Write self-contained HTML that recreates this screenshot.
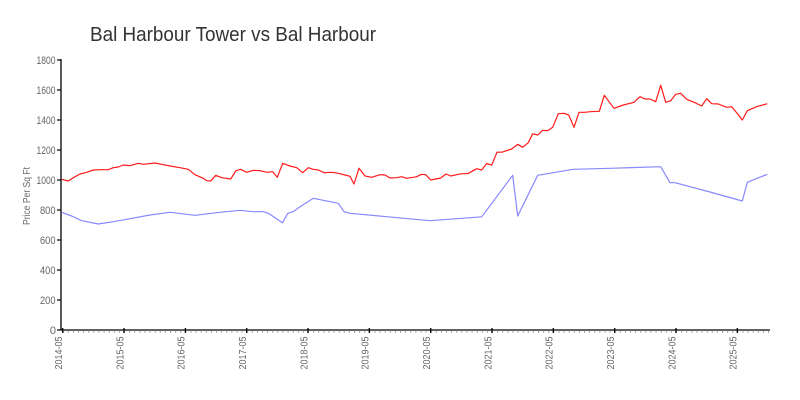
<!DOCTYPE html>
<html><head><meta charset="utf-8"><style>
html,body{margin:0;padding:0;background:#fff;width:800px;height:400px;overflow:hidden}
svg{display:block}
text{font-family:"Liberation Sans",sans-serif}
</style></head><body>
<svg width="800" height="400" viewBox="0 0 800 400" xmlns="http://www.w3.org/2000/svg">
<rect width="800" height="400" fill="#fff"/>
<text x="90" y="41" font-size="20" fill="#333" textLength="286" lengthAdjust="spacingAndGlyphs">Bal Harbour Tower vs Bal Harbour</text>
<!-- y axis -->
<line x1="61" y1="59" x2="61" y2="330.5" stroke="#000" stroke-width="1.3"/>
<g stroke="#000" stroke-width="1.2">
<line x1="57" y1="60" x2="61" y2="60"/><line x1="57" y1="90" x2="61" y2="90"/><line x1="57" y1="120" x2="61" y2="120"/><line x1="57" y1="150" x2="61" y2="150"/><line x1="57" y1="180" x2="61" y2="180"/><line x1="57" y1="210" x2="61" y2="210"/><line x1="57" y1="240" x2="61" y2="240"/><line x1="57" y1="270" x2="61" y2="270"/><line x1="57" y1="300" x2="61" y2="300"/><line x1="57" y1="330" x2="61" y2="330"/>
</g>
<g font-size="11" fill="#666" text-anchor="end">
<text x="55.5" y="63.8" textLength="19" lengthAdjust="spacingAndGlyphs">1800</text>
<text x="55.5" y="93.8" textLength="19" lengthAdjust="spacingAndGlyphs">1600</text>
<text x="55.5" y="123.8" textLength="19" lengthAdjust="spacingAndGlyphs">1400</text>
<text x="55.5" y="153.8" textLength="19" lengthAdjust="spacingAndGlyphs">1200</text>
<text x="55.5" y="183.8" textLength="19" lengthAdjust="spacingAndGlyphs">1000</text>
<text x="55.5" y="213.8" textLength="15.5" lengthAdjust="spacingAndGlyphs">800</text>
<text x="55.5" y="243.8" textLength="15.5" lengthAdjust="spacingAndGlyphs">600</text>
<text x="55.5" y="273.8" textLength="15.5" lengthAdjust="spacingAndGlyphs">400</text>
<text x="55.5" y="303.8" textLength="15.5" lengthAdjust="spacingAndGlyphs">200</text>
<text x="56" y="333.8">0</text>
</g>
<text transform="translate(30,196) rotate(-90)" font-size="10" fill="#666" text-anchor="middle" textLength="58" lengthAdjust="spacingAndGlyphs">Price Per Sq Ft</text>
<!-- x axis -->
<line x1="61" y1="330" x2="770" y2="330" stroke="#000" stroke-width="1.3"/>
<line x1="62.7" y1="331.5" x2="770" y2="331.5" stroke="#999" stroke-width="2.5" stroke-dasharray="1 4.111"/>
<g stroke="#000" stroke-width="1.3">
<line x1="62.7" y1="328" x2="62.7" y2="333"/><line x1="124" y1="328" x2="124" y2="333"/><line x1="185.4" y1="328" x2="185.4" y2="333"/><line x1="246.7" y1="328" x2="246.7" y2="333"/><line x1="308" y1="328" x2="308" y2="333"/><line x1="369.3" y1="328" x2="369.3" y2="333"/><line x1="430.7" y1="328" x2="430.7" y2="333"/><line x1="492" y1="328" x2="492" y2="333"/><line x1="553.3" y1="328" x2="553.3" y2="333"/><line x1="614.7" y1="328" x2="614.7" y2="333"/><line x1="676" y1="328" x2="676" y2="333"/><line x1="737.3" y1="328" x2="737.3" y2="333"/>
</g>
<g font-size="10" fill="#666" text-anchor="end">
<text transform="translate(62,336.5) rotate(-90)" textLength="33" lengthAdjust="spacingAndGlyphs">2014-05</text>
<text transform="translate(123.3,336.5) rotate(-90)" textLength="33" lengthAdjust="spacingAndGlyphs">2015-05</text>
<text transform="translate(184.7,336.5) rotate(-90)" textLength="33" lengthAdjust="spacingAndGlyphs">2016-05</text>
<text transform="translate(246,336.5) rotate(-90)" textLength="33" lengthAdjust="spacingAndGlyphs">2017-05</text>
<text transform="translate(307.3,336.5) rotate(-90)" textLength="33" lengthAdjust="spacingAndGlyphs">2018-05</text>
<text transform="translate(368.6,336.5) rotate(-90)" textLength="33" lengthAdjust="spacingAndGlyphs">2019-05</text>
<text transform="translate(430,336.5) rotate(-90)" textLength="33" lengthAdjust="spacingAndGlyphs">2020-05</text>
<text transform="translate(491.3,336.5) rotate(-90)" textLength="33" lengthAdjust="spacingAndGlyphs">2021-05</text>
<text transform="translate(552.6,336.5) rotate(-90)" textLength="33" lengthAdjust="spacingAndGlyphs">2022-05</text>
<text transform="translate(614,336.5) rotate(-90)" textLength="33" lengthAdjust="spacingAndGlyphs">2023-05</text>
<text transform="translate(675.3,336.5) rotate(-90)" textLength="33" lengthAdjust="spacingAndGlyphs">2024-05</text>
<text transform="translate(736.6,336.5) rotate(-90)" textLength="33" lengthAdjust="spacingAndGlyphs">2025-05</text>
</g>
<!-- series -->
<polyline fill="none" stroke="#8888ff" stroke-width="1.2" stroke-linejoin="round" points="61.7,212.3 71.7,216 81.7,220.7 98.3,224 113.3,221.7 130,218.7 150,215 170,212.3 195,215.3 220,212.3 240,210.3 253.3,211.7 263.3,211.7 268.3,213.3 282.5,222.7 287.8,213.3 293,211.7 299.3,207.3 313.3,198.3 338.3,203.3 344,211.7 350,213.3 430,220.7 481.7,216.8 512.7,175.3 517.7,216 537.7,175.3 573.3,169.3 610,168.3 660.7,166.7 670,182.7 675,182.7 710,192 742.3,201 747.3,182.3 767.3,174.3"/>
<polyline fill="none" stroke="#ff1a1a" stroke-width="1.2" stroke-linejoin="round" points="61.7,179.3 68.3,181 73.3,177.7 80,174 86.7,172.3 93.3,170 101.7,169.7 108.3,169.7 113.3,167.7 118.3,167 123.3,165 130,165.7 138.3,163.3 143.3,164.3 155,163 163.3,164.7 170,166 180,167.7 188.3,169.3 195,174.7 203.3,178.3 206.7,180.7 210.7,181 215.7,175.3 221.7,177.7 230.7,179 236,170.7 240.7,169.3 246.7,172.3 253.3,170.3 260,170.7 266.7,172.3 272.7,171.7 277.3,177.3 282.7,163.3 290,166 296.7,167.7 302.7,172.7 308.3,167.7 313.3,169.3 318.3,170 324,172.7 331.7,172.3 338.3,173.3 345,175 350,176.3 354,184 359,168.3 365,176 371.7,177.3 380,174.7 385,175 390,178 396.7,177.7 401.7,176.7 406.7,178.3 413.3,177.3 416.7,176.7 421.7,174.3 425.7,174.7 430.7,180 440.7,178 446,174 450.7,176 456.7,174.7 461.7,173.7 467.7,173.7 476.7,168.7 481.7,170 486.7,163.5 491.7,165.2 497,152.2 502,152.2 511.7,149 517.7,144.3 522.7,147.3 528.3,142.7 532.7,133.7 537.7,135 542.7,130.3 547.7,130.7 552.7,127.3 558.3,113.7 564,113.3 568.7,115 574,127.3 579,112.3 585,112.3 590,111.7 599.3,111.3 604.3,95.3 614,108.3 623.3,105 634,102.3 640,96.7 645,99 650,99 655.7,101.7 660.7,85.3 665.7,102.3 670.7,100.7 675.7,94.3 680.7,93.3 686.7,99.3 695,102.7 701.7,106 706.7,98.7 711.7,103.7 718.3,104 726.7,107.3 731.7,106.7 737.7,114 742.3,120 747.3,110.7 756.7,106.7 767.3,103.7"/>
</svg>
</body></html>
